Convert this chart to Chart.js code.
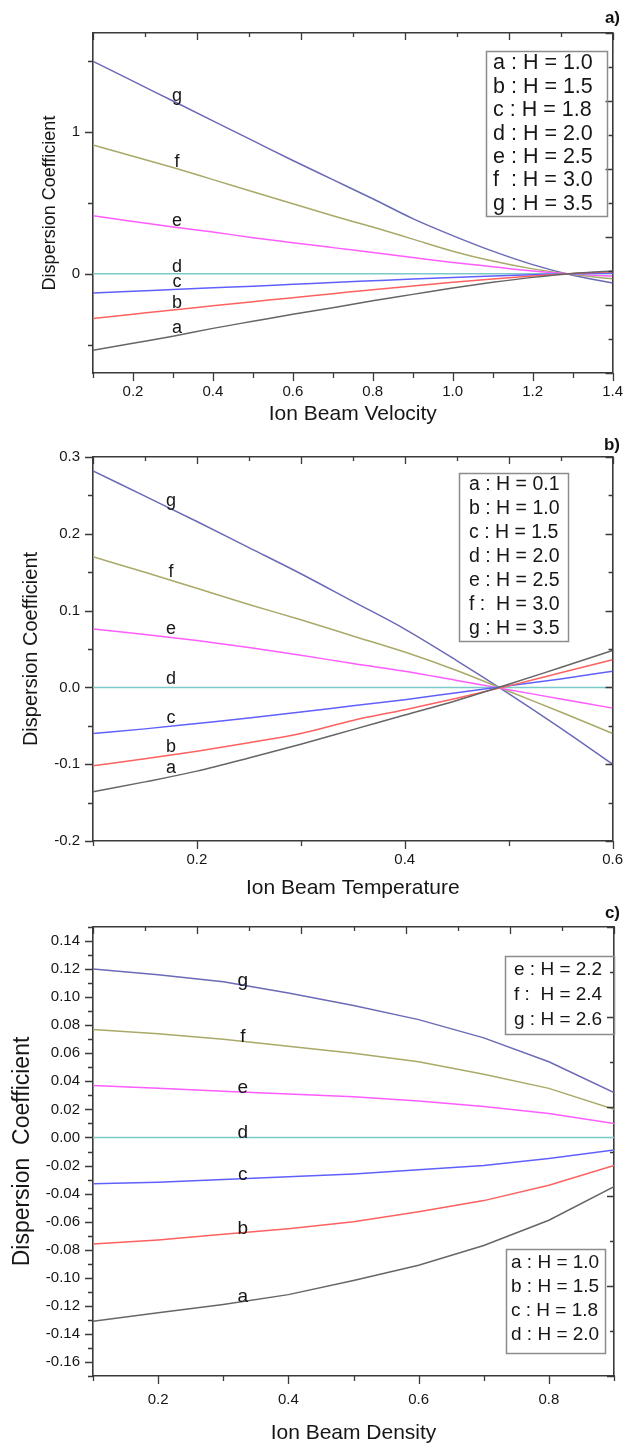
<!DOCTYPE html>
<html>
<head>
<meta charset="utf-8">
<title>Dispersion Coefficient</title>
<script src="https://cdn.jsdelivr.net/npm/chart.js@4.4.1/dist/chart.umd.min.js"></script>
<style>
  body { margin: 0; background: #fff; }
  #wrap { position: relative; width: 633px; height: 1448px; background: #fff; overflow: hidden; }
  canvas { position: absolute; left: 0; }
</style>
</head>
<body>
<div id="wrap">
  <canvas id="chartA" width="633" height="430" style="top:0px"></canvas>
  <canvas id="chartB" width="633" height="475" style="top:430px"></canvas>
  <canvas id="chartC" width="633" height="543" style="top:905px"></canvas>
</div>
<script>
// ===== DATA =====
const curveNames = ['a', 'b', 'c', 'd', 'e', 'f', 'g'];

// a) Ion Beam Velocity
const velocityX = [0.1, 0.2, 0.3, 0.4, 0.5, 0.6, 0.7, 0.8, 0.9, 1.0, 1.1, 1.2, 1.3, 1.4];
const velA = [-0.54, -0.49, -0.44, -0.385, -0.335, -0.285, -0.24, -0.19, -0.145, -0.10, -0.06, -0.025, 0.003, 0.02];
const velB = [-0.315, -0.285, -0.255, -0.226, -0.197, -0.168, -0.14, -0.112, -0.086, -0.06, -0.037, -0.016, 0.002, 0.015];
const velC = [-0.135, -0.123, -0.111, -0.099, -0.087, -0.074, -0.061, -0.049, -0.037, -0.026, -0.016, -0.007, 0.001, 0.006];
const velD = [0, 0, 0, 0, 0, 0, 0, 0, 0, 0, 0, 0, 0, 0];
const velE = [0.41, 0.37, 0.33, 0.295, 0.255, 0.22, 0.185, 0.15, 0.115, 0.08, 0.05, 0.02, -0.002, -0.016];
const velF = [0.91, 0.83, 0.75, 0.665, 0.58, 0.495, 0.41, 0.33, 0.245, 0.16, 0.09, 0.035, -0.005, -0.035];
const velG = [1.50, 1.36, 1.22, 1.08, 0.94, 0.80, 0.665, 0.53, 0.39, 0.27, 0.16, 0.065, -0.01, -0.065];
const velXTicks = [0.2, 0.4, 0.6, 0.8, 1.0, 1.2, 1.4];
const velYTicks = [0, 1];
const velLegend = ['a : H = 1.0', 'b : H = 1.5', 'c : H = 1.8', 'd : H = 2.0', 'e : H = 2.5', 'f  : H = 3.0', 'g : H = 3.5'];

// b) Ion Beam Temperature
const temperatureX = [0.1, 0.15, 0.2, 0.25, 0.3, 0.35, 0.4, 0.45, 0.5, 0.55, 0.6];
const tempA = [-0.136, -0.123, -0.109, -0.092, -0.074, -0.055, -0.036, -0.017, 0.004, 0.026, 0.048];
const tempB = [-0.102, -0.093, -0.083, -0.072, -0.060, -0.043, -0.029, -0.014, 0.002, 0.019, 0.036];
const tempC = [-0.060, -0.054, -0.047, -0.040, -0.032, -0.024, -0.016, -0.007, 0.002, 0.011, 0.021];
const tempD = [0, 0, 0, 0, 0, 0, 0, 0, 0, 0, 0];
const tempE = [0.076, 0.069, 0.061, 0.052, 0.042, 0.031, 0.021, 0.009, -0.003, -0.015, -0.027];
const tempF = [0.170, 0.150, 0.129, 0.108, 0.088, 0.067, 0.046, 0.022, -0.005, -0.032, -0.060];
const tempG = [0.282, 0.249, 0.216, 0.182, 0.148, 0.112, 0.076, 0.035, -0.008, -0.053, -0.100];
const tempXTicks = [0.2, 0.4, 0.6];
const tempYTicks = [-0.2, -0.1, 0.0, 0.1, 0.2, 0.3];
const tempLegend = ['a : H = 0.1', 'b : H = 1.0', 'c : H = 1.5', 'd : H = 2.0', 'e : H = 2.5', 'f :  H = 3.0', 'g : H = 3.5'];

// c) Ion Beam Density
const densityX = [0.1, 0.2, 0.3, 0.4, 0.5, 0.6, 0.7, 0.8, 0.9];
const densA = [-0.131, -0.125, -0.119, -0.112, -0.102, -0.091, -0.077, -0.059, -0.035];
const densB = [-0.076, -0.073, -0.069, -0.065, -0.060, -0.053, -0.045, -0.034, -0.020];
const densC = [-0.033, -0.032, -0.030, -0.028, -0.026, -0.023, -0.020, -0.015, -0.009];
const densD = [0, 0, 0, 0, 0, 0, 0, 0, 0];
const densE = [0.037, 0.035, 0.033, 0.031, 0.029, 0.026, 0.022, 0.017, 0.010];
const densF = [0.077, 0.074, 0.070, 0.065, 0.060, 0.054, 0.045, 0.035, 0.020];
const densG = [0.120, 0.116, 0.111, 0.103, 0.094, 0.084, 0.071, 0.054, 0.032];
const densXTicks = [0.2, 0.4, 0.6, 0.8];
const densYTicks = [-0.16, -0.14, -0.12, -0.10, -0.08, -0.06, -0.04, -0.02, 0.00, 0.02, 0.04, 0.06, 0.08, 0.10, 0.12, 0.14];
const densLegendTop = ['e : H = 2.2', 'f :  H = 2.4', 'g : H = 2.6'];
const densLegendBottom = ['a : H = 1.0', 'b : H = 1.5', 'c : H = 1.8', 'd : H = 2.0'];

// ===== STYLE =====
const FONT = '"Liberation Sans", Arial, Helvetica, sans-serif';
const textColor = '#161616';
const axisColor = '#3a3a3a';
const curveColors = ['#666666', '#ff6060', '#6060ff', '#7cc9c9', '#ff5cff', '#a9a968', '#6a6ab6'];
const PLOT_LEFT = 93, PLOT_RIGHT = 614;

function tickLabel(v, list, dec) {
    return list.some(l => Math.abs(l - v) < 1e-9) ? v.toFixed(dec) : '';
}

function valueAt(xs, ys, x) {
    for (let i = 0; i < xs.length - 1; i++) {
        if (x >= xs[i] && x <= xs[i + 1]) {
            const t = (x - xs[i]) / (xs[i + 1] - xs[i]);
            return ys[i] + t * (ys[i + 1] - ys[i]);
        }
    }
    return ys[ys.length - 1];
}

// ticks, curve letters, legend boxes and the panel tag
const decorPlugin = {
    id: 'decor',
    afterDraw(chart) {
        const p = chart.options.plugins.decor;
        const ctx = chart.ctx, area = chart.chartArea;
        const sx = chart.scales.x, sy = chart.scales.y, sx2 = chart.scales.x2, sy2 = chart.scales.y2;
        ctx.save();

        // tick marks
        ctx.strokeStyle = axisColor;
        ctx.lineWidth = 1.3;
        ctx.beginPath();
        sx.ticks.forEach(t => {
            const px = Math.round(sx.getPixelForValue(t.value)) + 0.5;
            ctx.moveTo(px, area.bottom); ctx.lineTo(px, area.bottom + (t.label ? 8 : 5));
        });
        sy.ticks.forEach(t => {
            const py = Math.round(sy.getPixelForValue(t.value)) + 0.5;
            ctx.moveTo(area.left, py); ctx.lineTo(area.left - (t.label ? 8 : 5), py);
        });
        sx2.ticks.forEach(t => {
            const px = Math.round(sx2.getPixelForValue(t.value)) + 0.5;
            ctx.moveTo(px, area.top); ctx.lineTo(px, area.top + (t.value % 2 === 0 ? 7 : 4));
        });
        sy2.ticks.forEach(t => {
            const py = Math.round(sy2.getPixelForValue(t.value)) + 0.5;
            ctx.moveTo(area.right, py); ctx.lineTo(area.right - (t.value % 2 === 0 ? 7 : 4), py);
        });
        ctx.stroke();

        // curve letters
        ctx.fillStyle = textColor;
        ctx.font = p.letterSize + 'px ' + FONT;
        ctx.textAlign = 'center';
        ctx.textBaseline = 'alphabetic';
        p.series.forEach((ys, i) => {
            const v = valueAt(p.xs, ys, p.letterAt);
            ctx.fillText(curveNames[i], sx.getPixelForValue(p.letterAt), sy.getPixelForValue(v) + p.letterShift);
        });

        // legend boxes
        p.legends.forEach(lg => {
            ctx.strokeStyle = '#8c8c8c';
            ctx.lineWidth = 1.5;
            ctx.strokeRect(lg.x + 0.5, lg.y + 0.5, lg.w, lg.h);
            ctx.fillStyle = textColor;
            ctx.font = lg.size + 'px ' + FONT;
            ctx.textAlign = 'left';
            ctx.textBaseline = 'middle';
            lg.lines.forEach((s, k) => ctx.fillText(s, lg.textX, lg.firstRow + k * lg.rowH));
        });

        // panel tag
        ctx.font = 'bold 17px ' + FONT;
        ctx.textAlign = 'right';
        ctx.textBaseline = 'middle';
        ctx.fillStyle = '#111';
        ctx.fillText(p.tag, 620, p.tagY);
        ctx.restore();
    }
};

function makePanel(canvasId, p) {
    const datasets = p.series.map((ys, i) => ({
        label: curveNames[i],
        data: p.xs.map((x, j) => ({ x: x, y: ys[j] })),
        borderColor: curveColors[i],
        borderWidth: 1.5,
        pointRadius: 0,
        fill: false,
        tension: p.smooth ? 0.4 : 0,
        cubicInterpolationMode: p.smooth ? 'monotone' : 'default'
    }));

    const frame = { display: true, color: axisColor, width: 1.6 };
    const noGrid = { drawOnChartArea: false, drawTicks: false };

    new Chart(document.getElementById(canvasId), {
        type: 'line',
        data: { datasets: datasets },
        options: {
            responsive: false,
            animation: false,
            layout: { padding: 0 },
            plugins: {
                legend: { display: false },
                tooltip: { enabled: false },
                decor: {
                    xs: p.xs, series: p.series, letterAt: p.letterAt, letterShift: p.letterShift,
                    letterSize: p.letterSize, legends: p.legends, tag: p.tag, tagY: p.tagY
                }
            },
            scales: {
                x: {
                    type: 'linear', position: 'bottom', min: p.xMin, max: p.xMax,
                    ticks: {
                        stepSize: p.xStep, includeBounds: false, autoSkip: false, maxRotation: 0,
                        padding: p.xTickPad, color: textColor, font: { family: FONT, size: 15 },
                        callback: v => tickLabel(v, p.xTicks, p.xDec)
                    },
                    grid: noGrid, border: frame,
                    title: {
                        display: true, text: p.xTitle, color: textColor,
                        font: { family: FONT, size: 21 }, padding: { top: 0, bottom: p.xTitlePad }
                    },
                    afterFit: s => { s.height = p.height - p.plotBottom; }
                },
                x2: {
                    type: 'linear', position: 'top', min: 0, max: 10,
                    ticks: { display: false, stepSize: 1 },
                    grid: noGrid, border: frame,
                    afterFit: s => { s.height = p.plotTop; }
                },
                y: {
                    type: 'linear', position: 'left', min: p.yMin, max: p.yMax,
                    ticks: {
                        stepSize: p.yStep, includeBounds: false, autoSkip: false,
                        padding: 13, color: textColor, font: { family: FONT, size: 15 },
                        callback: v => tickLabel(v, p.yTicks, p.yDec)
                    },
                    grid: noGrid, border: frame,
                    title: {
                        display: true, text: p.yTitle, color: textColor,
                        font: { family: FONT, size: p.yTitleSize }, padding: { top: p.yTitlePad, bottom: 0 }
                    },
                    afterFit: s => { s.width = PLOT_LEFT; }
                },
                y2: {
                    type: 'linear', position: 'right', min: 0, max: 10,
                    ticks: { display: false, stepSize: 1 },
                    grid: noGrid, border: frame,
                    afterFit: s => { s.width = 633 - PLOT_RIGHT; }
                }
            }
        },
        plugins: [decorPlugin]
    });
}

// ===== a) =====
makePanel('chartA', {
    xs: velocityX, series: [velA, velB, velC, velD, velE, velF, velG], smooth: true,
    xMin: 0.1, xMax: 1.4, xStep: 0.1, xDec: 1, xTicks: velXTicks, xTickPad: 10,
    yMin: -0.7, yMax: 1.7, yStep: 0.5, yDec: 0, yTicks: velYTicks,
    xTitle: 'Ion Beam Velocity', xTitlePad: 3,
    yTitle: 'Dispersion Coefficient', yTitleSize: 18, yTitlePad: 39,
    height: 430, plotTop: 33, plotBottom: 373,
    letterAt: 0.31, letterShift: -2, letterSize: 18,
    tag: 'a)', tagY: 18,
    legends: [{ x: 486, y: 51, w: 121, h: 165, textX: 493, firstRow: 63.5, rowH: 23.4, size: 21.5, lines: velLegend }]
});

// ===== b) =====
makePanel('chartB', {
    xs: temperatureX, series: [tempA, tempB, tempC, tempD, tempE, tempF, tempG], smooth: true,
    xMin: 0.1, xMax: 0.6, xStep: 0.1, xDec: 1, xTicks: tempXTicks, xTickPad: 10,
    yMin: -0.2, yMax: 0.3, yStep: 0.05, yDec: 1, yTicks: tempYTicks,
    xTitle: 'Ion Beam Temperature', xTitlePad: 4,
    yTitle: 'Dispersion Coefficient', yTitleSize: 20, yTitlePad: 19,
    height: 475, plotTop: 27, plotBottom: 411,
    letterAt: 0.175, letterShift: -3, letterSize: 18,
    tag: 'b)', tagY: 15,
    legends: [{ x: 459, y: 43, w: 109, h: 168, textX: 469, firstRow: 55, rowH: 23.9, size: 19.5, lines: tempLegend }]
});

// ===== c) =====
makePanel('chartC', {
    xs: densityX, series: [densA, densB, densC, densD, densE, densF, densG], smooth: false,
    xMin: 0.1, xMax: 0.9, xStep: 0.1, xDec: 1, xTicks: densXTicks, xTickPad: 15,
    yMin: -0.17, yMax: 0.15, yStep: 0.01, yDec: 2, yTicks: densYTicks,
    xTitle: 'Ion Beam Density', xTitlePad: 2,
    yTitle: 'Dispersion  Coefficient', yTitleSize: 23, yTitlePad: 9,
    height: 543, plotTop: 20, plotBottom: 471,
    letterAt: 0.33, letterShift: 1, letterSize: 19,
    tag: 'c)', tagY: 8,
    legends: [
        { x: 505, y: 51, w: 109, h: 78, textX: 514, firstRow: 65, rowH: 25, size: 19, lines: densLegendTop },
        { x: 506, y: 344, w: 99, h: 104, textX: 511, firstRow: 358, rowH: 24, size: 19, lines: densLegendBottom }
    ]
});
</script>
</body>
</html>
